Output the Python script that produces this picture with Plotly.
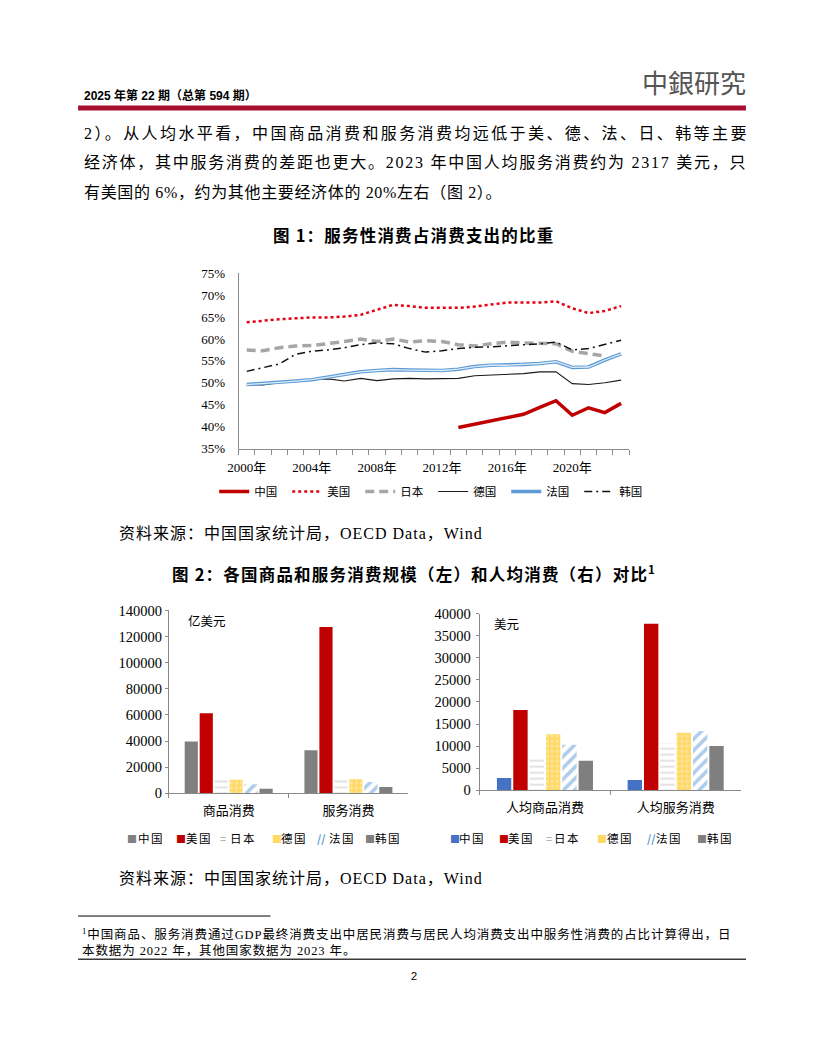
import plotly.graph_objects as go

W, H = 816, 1056


def px(x):
    return x / W


def py(y):
    return 1 - y / H


# ---------------- data: figure 1 (service share of consumption, %) ----------------
years = list(range(2000, 2024))
year_ticks = [2000, 2004, 2008, 2012, 2016, 2020]
year_ticktext = [f"{y}年" for y in year_ticks]
share_ticks = [35, 40, 45, 50, 55, 60, 65, 70, 75]
share_ticktext = [f"{v}%" for v in share_ticks]

china_years = list(range(2013, 2024))
china_share = [39.8, 40.5, 41.4, 42.0, 42.8, 44.4, 45.9, 42.6, 44.3, 43.2, 45.3]
us_share = [63.8, 64.2, 64.5, 64.7, 64.9, 64.9, 65.1, 65.5, 66.6, 67.8, 67.5, 67.1,
            67.1, 67.1, 67.4, 67.8, 68.3, 68.3, 68.3, 68.6, 67.0, 65.9, 66.4, 67.5]
japan_years = list(range(2000, 2023))
japan_share = [57.5, 57.3, 58.0, 58.4, 58.5, 58.9, 59.4, 60.0, 59.4, 60.0, 59.3, 59.6,
               59.4, 58.7, 58.4, 58.9, 59.3, 59.1, 59.0, 58.9, 57.2, 56.7, 56.1]
germany_share = [49.5, 49.5, 50.0, 50.4, 50.7, 50.9, 50.4, 51.0, 50.5, 50.9, 51.0, 50.9,
                 50.9, 51.0, 51.6, 51.8, 51.9, 52.1, 52.5, 52.5, 49.8, 49.6, 50.0, 50.6]
france_share = [49.6, 49.8, 50.1, 50.4, 50.7, 51.3, 51.9, 52.5, 52.8, 53.0, 52.9, 52.8,
                52.8, 53.1, 53.7, 54.0, 54.0, 54.2, 54.4, 54.8, 53.5, 53.6, 55.2, 56.6]
korea_share = [52.6, 53.5, 54.3, 56.5, 57.2, 57.5, 58.0, 58.7, 59.1, 58.9, 57.8, 57.0,
               57.3, 57.8, 58.1, 58.2, 58.4, 58.7, 58.9, 59.3, 57.5, 57.8, 58.7, 59.7]

# ---------------- data: figure 2 ----------------
countries = ["中国", "美国", "日本", "德国", "法国", "韩国"]
total_categories = ["商品消费", "服务消费"]          # 亿美元
total_china = [39800, 33000]
total_us = [61300, 127300]
total_japan = [10200, 12500]
total_germany = [10500, 10800]
total_france = [7000, 8800]
total_korea = [3500, 5000]
total_ticks = [0, 20000, 40000, 60000, 80000, 100000, 120000, 140000]

pc_categories = ["人均商品消费", "人均服务消费"]     # 美元
pc_china = [2800, 2317]
pc_us = [18200, 37700]
pc_japan = [7600, 10600]
pc_germany = [12700, 13000]
pc_france = [10300, 13400]
pc_korea = [6700, 10000]
pc_ticks = [0, 5000, 10000, 15000, 20000, 25000, 30000, 35000, 40000]

SERIF = "Liberation Serif, Noto Sans CJK SC, serif"
CJK = "Noto Sans CJK SC, sans-serif"
AXIS = "#898989"

fig = go.Figure()

# ---------------- figure 1 lines ----------------
fig.add_trace(go.Scatter(x=china_years, y=china_share, mode="lines", name="中国",
                         line=dict(color="#C00000", width=3.5), legendrank=1))
fig.add_trace(go.Scatter(x=years, y=us_share, mode="lines", name="美国",
                         line=dict(color="#E60012", width=2.5, dash="dot"), legendrank=2))
fig.add_trace(go.Scatter(x=japan_years, y=japan_share, mode="lines", name="日本",
                         line=dict(color="#A6A6A6", width=3.5, dash="9px,5px"), legendrank=3))
fig.add_trace(go.Scatter(x=years, y=germany_share, mode="lines", name="德国",
                         line=dict(color="#1A1A1A", width=1.1), legendrank=4))
fig.add_trace(go.Scatter(x=years, y=france_share, mode="lines", name="法国",
                         line=dict(color="#5B9BD5", width=3.6), legendrank=5))
fig.add_trace(go.Scatter(x=years, y=france_share, mode="lines", name="法国",
                         line=dict(color="#DDEBF7", width=1.3), showlegend=False))
fig.add_trace(go.Scatter(x=years, y=korea_share, mode="lines", name="韩国",
                         line=dict(color="#111111", width=1.5, dash="8px,4px,2px,4px"),
                         legendrank=6))

# ---------------- figure 2 bars ----------------
def bar_styles(china_color):
    return [
        dict(color=china_color),
        dict(color="#C00000"),
        dict(color="white", pattern=dict(shape="-", fgcolor="#C8C8C8", bgcolor="white",
                                         size=6, solidity=0.35)),
        dict(color="#FFD966", pattern=dict(shape=".", fgcolor="#FFF2CC", bgcolor="#FFD966",
                                           size=5, solidity=0.35)),
        dict(color="white", pattern=dict(shape="/", fgcolor="#5B9BD5", bgcolor="white",
                                         size=8, solidity=0.45)),
        dict(color="#7F7F7F"),
    ]


left_values = [total_china, total_us, total_japan, total_germany, total_france, total_korea]
right_values = [pc_china, pc_us, pc_japan, pc_germany, pc_france, pc_korea]

for name, vals, mk in zip(countries, left_values, bar_styles("#808080")):
    fig.add_trace(go.Bar(x=total_categories, y=vals, name=name, marker=dict(line=dict(width=0), **mk),
                         xaxis="x2", yaxis="y2", showlegend=False))
for name, vals, mk in zip(countries, right_values, bar_styles("#4472C4")):
    fig.add_trace(go.Bar(x=pc_categories, y=vals, name=name, marker=dict(line=dict(width=0), **mk),
                         xaxis="x3", yaxis="y3", showlegend=False))

# ---------------- axes ----------------
fig.update_layout(
    width=W, height=H, autosize=False,
    margin=dict(l=0, r=0, t=0, b=0),
    paper_bgcolor="white", plot_bgcolor="rgba(0,0,0,0)",
    barmode="group", bargap=0.25, bargroupgap=0.12,
    xaxis=dict(domain=[px(230.7), px(626.7)], range=[1999.5, 2023.5], anchor="y",
               tickmode="array", tickvals=year_ticks, ticktext=year_ticktext,
               ticks="outside", ticklen=0, showline=True, linecolor=AXIS, linewidth=1,
               minor=dict(ticks="outside", tickmode="array",
                          tickvals=[y - 0.5 for y in years] + [years[-1] + 0.5],
                          ticklen=5, tickcolor=AXIS),
               showgrid=False, zeroline=False, ticklabelstandoff=7,
               tickfont=dict(family=SERIF, size=13, color="black")),
    yaxis=dict(domain=[py(447.3), py(269.3)], range=[35, 75], anchor="x",
               tickmode="array", tickvals=share_ticks, ticktext=share_ticktext,
               ticks="", showline=True, linecolor=AXIS, linewidth=1,
               showgrid=False, zeroline=False, ticklabelstandoff=10,
               tickfont=dict(family=SERIF, size=13, color="black")),
    xaxis2=dict(domain=[px(160), px(402.7)], anchor="y2", type="category",
                ticks="outside", tickson="boundaries", ticklen=4, tickcolor=AXIS,
                showline=True, linecolor=AXIS, linewidth=1, showgrid=False,
                ticklabelstandoff=5, tickfont=dict(family=CJK, size=13, color="black")),
    yaxis2=dict(domain=[py(797.5), py(611.7)], anchor="x2", range=[0, 140000],
                tickmode="array", tickvals=total_ticks, tickformat="d",
                ticks="outside", ticklen=3, tickcolor=AXIS, showline=True, linecolor=AXIS,
                linewidth=1, showgrid=False, zeroline=False,
                tickfont=dict(family=SERIF, size=14.5, color="black")),
    xaxis3=dict(domain=[px(475), px(740)], anchor="y3", type="category",
                ticks="outside", tickson="boundaries", ticklen=4, tickcolor=AXIS,
                showline=True, linecolor=AXIS, linewidth=1, showgrid=False,
                ticklabelstandoff=5, tickfont=dict(family=CJK, size=13, color="black")),
    yaxis3=dict(domain=[py(794.3), py(615)], anchor="x3", range=[0, 40000],
                tickmode="array", tickvals=pc_ticks, tickformat="d",
                ticks="outside", ticklen=3, tickcolor=AXIS, showline=True, linecolor=AXIS,
                linewidth=1, showgrid=False, zeroline=False, ticklabelstandoff=2,
                tickfont=dict(family=SERIF, size=14.5, color="black")),
    legend=dict(orientation="h", x=px(206), y=py(491), xanchor="left", yanchor="middle",
                font=dict(family=CJK, size=11.5, color="black"), itemwidth=30,
                entrywidth=28, entrywidthmode="pixels", bgcolor="rgba(0,0,0,0)",
                traceorder="normal"),
)

# ---------------- page elements ----------------
ann = []


def text(x, y, s, size=16, family=CJK, color="black", anchor="left", ls=None, bold=False):
    body = s
    if ls is not None:
        body = f"<span style='letter-spacing:{ls}px'>{body}</span>"
    if bold:
        body = f"<b>{body}</b>"
    ann.append(dict(x=px(x), y=py(y), xref="paper", yref="paper", text=body,
                    showarrow=False, xanchor=anchor, yanchor="middle",
                    font=dict(family=family, size=size, color=color)))


text(72, 89, "2025 年第 22 期（总第 594 期）", size=12, family="Liberation Sans, Noto Sans CJK SC",
     bold=True)
text(692, 75, "中銀研究", size=26, family="Noto Sans CJK TC", color="#555555", anchor="center")

text(72, 127, "2）。从人均水平看，中国商品消费和服务消费均远低于美、德、法、日、韩等主要",
     size=16, family=SERIF, ls=2.4)
text(72, 157, "经济体，其中服务消费的差距也更大。2023 年中国人均服务消费约为 2317 美元，只",
     size=16, family=SERIF, ls=1.75)
text(72, 187, "有美国的 6%，约为其他主要经济体的 20%左右（图 2）。", size=16, family=SERIF, ls=0.65)

text(408, 230, "图 1：服务性消费占消费支出的比重", size=16.5, family=CJK, anchor="center",
     bold=True, ls=1.2)
text(107, 534, "资料来源：中国国家统计局，OECD Data，Wind", size=16, family=SERIF, ls=1)
text(408, 574, "图 2：各国商品和服务消费规模（左）和人均消费（右）对比<sup>1</sup>", size=16.5,
     family=CJK, anchor="center", bold=True, ls=1.2)

text(177, 622, "亿美元", size=12.5, family=CJK)
text(488, 625, "美元", size=12.5, family=CJK)

# manual legends for figure 2
sym_left = [("■", "#808080"), ("■", "#C00000"), ("=", "#A6A6A6"), ("■", "#FFD966"),
            ("<b>//</b>", "#5B9BD5"), ("■", "#7F7F7F")]
sym_right = [("■", "#4472C4")] + sym_left[1:]
left_sym_x = [116, 165, 210, 263, 308, 357]
left_txt_x = [127, 175, 220, 272, 320, 367]
right_sym_x = [443, 493, 540, 592, 643, 693]
right_txt_x = [452, 502, 548, 602, 652, 703]
for (s, c), sx, tx, name in zip(sym_left, left_sym_x, left_txt_x, countries):
    text(sx, 843, s, size=10 if s == "■" else 11, color=c)
    text(tx, 843, name, size=11.5, ls=1.5)
for (s, c), sx, tx, name in zip(sym_right, right_sym_x, right_txt_x, countries):
    text(sx, 843, s, size=10 if s == "■" else 11, color=c)
    text(tx, 843, name, size=11.5, ls=1.5)

text(107, 884, "资料来源：中国国家统计局，OECD Data，Wind", size=16, family=SERIF, ls=1)

text(70, 940, "<sup>1</sup>中国商品、服务消费通过GDP最终消费支出中居民消费与居民人均消费支出中服务性消费的占比计算得出，日",
     size=12.5, family=SERIF, ls=0.9)
text(70, 957, "本数据为 2022 年，其他国家数据为 2023 年。", size=12.5, family=SERIF, ls=0.9)
text(408, 983, "2", size=11, family="Liberation Sans", anchor="center")

shapes = [
    dict(type="rect", xref="paper", yref="paper", x0=px(68), x1=px(745), y0=py(104), y1=py(99),
         fillcolor="#A50F2D", line=dict(width=0)),
    dict(type="line", xref="paper", yref="paper", x0=px(68), x1=px(263), y0=py(922), y1=py(922),
         line=dict(color="black", width=1)),
    dict(type="line", xref="paper", yref="paper", x0=px(68), x1=px(745), y0=py(966), y1=py(966),
         line=dict(color="#3A3A3A", width=1.5)),
]

fig.update_layout(annotations=ann, shapes=shapes)

fig.write_html("out.html", config={"displayModeBar": False},
               post_script="document.body.style.margin='0';")
